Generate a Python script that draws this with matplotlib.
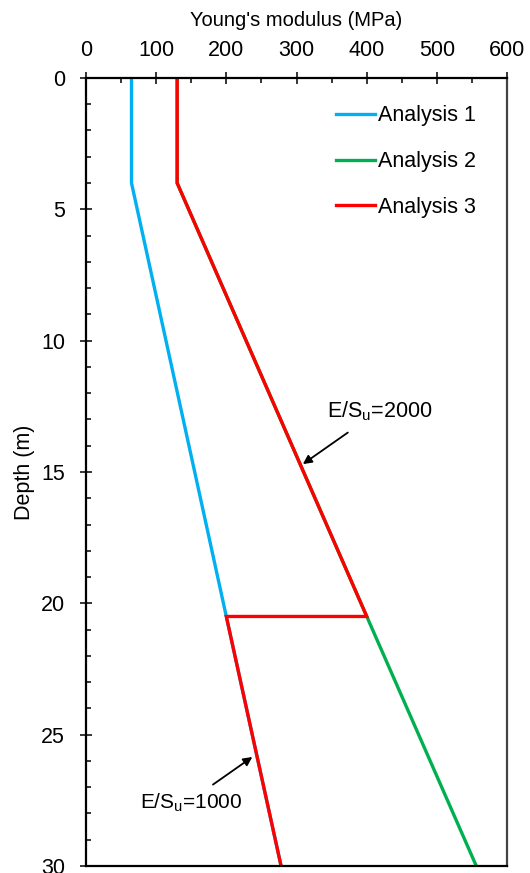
import matplotlib.pyplot as plt

plt.rcParams['font.family'] = ['Liberation Sans', 'DejaVu Sans']

# E (MPa) vs depth (m)
e1 = [65, 65, 200, 278]
d1 = [0, 4, 20.5, 30]
e2 = [130, 130, 400, 556]
d2 = [0, 4, 20.5, 30]
e3 = [130, 130, 400, 200, 278]
d3 = [0, 4, 20.5, 20.5, 30]
labels = ["Analysis 1", "Analysis 2", "Analysis 3"]
colors = ["#00b0f0", "#00b050", "#ff0000"]

fig = plt.figure(figsize=(5.3, 8.73), dpi=100)
ax = fig.add_axes([0.162, 0.008, 0.795, 0.9027])

ax.plot(e1, d1, color=colors[0], lw=2.4, label=labels[0], solid_joinstyle='miter')
ax.plot(e2, d2, color=colors[1], lw=2.4, label=labels[1], solid_joinstyle='miter')
ax.plot(e3, d3, color=colors[2], lw=2.4, label=labels[2], solid_joinstyle='miter')

ax.set_xlim(0, 600)
ax.set_ylim(30, 0)
ax.xaxis.tick_top()
ax.xaxis.set_label_position('top')
ax.set_xticks(range(0, 601, 100))
ax.set_xticks(range(50, 600, 100), minor=True)
ax.set_yticks(range(0, 31, 5))
ax.set_yticks([d for d in range(1, 30) if d % 5], minor=True)
ax.tick_params(which='major', direction='inout', length=8, width=1.1, labelsize=15.5)
ax.tick_params(which='minor', direction='in', length=3.5, width=1.1)
ax.tick_params(axis='x', which='major', pad=8)
ax.tick_params(axis='y', which='major', pad=11)
ax.set_xlabel("Young's modulus (MPa)", fontsize=14.5, labelpad=10)
ax.set_ylabel("Depth (m)", fontsize=15.5)
ax.yaxis.set_label_coords(-0.12, 0.5)
for side in ['top', 'left', 'bottom']:
    ax.spines[side].set_linewidth(1.6)
ax.spines['right'].set_linewidth(1.6)
ax.spines['right'].set_color('#444444')

ax.legend(loc='upper right', bbox_to_anchor=(0.946, 0.976), frameon=False, fontsize=15.5,
          borderaxespad=0, handlelength=1.8, handletextpad=0.15, labelspacing=1.15)

tip_hi, tail_hi, txt_hi = (309, 14.7), (373, 13.5), (419, 12.7)
tip_lo, tail_lo, txt_lo = (237, 25.85), (181, 26.9), (150, 27.6)

ax.text(*txt_hi, "E/S$_\\mathregular{u}$=2000", fontsize=15.5, ha='center', va='center')
ax.text(*txt_lo, "E/S$_\\mathregular{u}$=1000", fontsize=15, ha='center', va='center')
for tip, tail in [(tip_hi, tail_hi), (tip_lo, tail_lo)]:
    ax.annotate("", xy=tip, xytext=tail,
                arrowprops=dict(arrowstyle='-|>', color='black', lw=1.3,
                                shrinkA=0, shrinkB=0, mutation_scale=13))

fig.savefig("out.png", dpi=100)
